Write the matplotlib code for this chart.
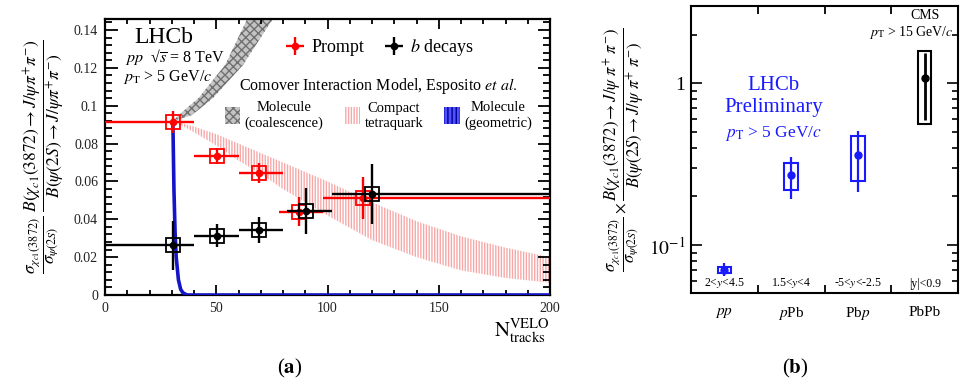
import matplotlib
matplotlib.use('Agg')
import matplotlib.pyplot as plt
import numpy as np
from matplotlib.patches import Rectangle, Patch
from matplotlib.ticker import FuncFormatter, MultipleLocator, FixedLocator, NullFormatter, LogLocator
import matplotlib.transforms as mtransforms

plt.rcParams['font.family'] = ['Liberation Serif', 'DejaVu Serif']
plt.rcParams['mathtext.fontset'] = 'stix'
plt.rcParams['hatch.linewidth'] = 1.0

# ---------------- data: panel (a) ----------------
prompt_x = [30.6, 50.5, 69.4, 87.4, 116.0]
prompt_xlo = [0, 40, 60, 78, 98]
prompt_xhi = [40, 60, 80, 98, 200]
prompt_y = [0.0914, 0.0734, 0.0644, 0.0440, 0.0512]
prompt_yerr = [0.0060, 0.0043, 0.0053, 0.0078, 0.0110]

bdec_x = [30.6, 50.3, 69.4, 90.5, 120.0]
bdec_xlo = [0, 40, 60, 82, 102]
bdec_xhi = [40, 60, 80, 102, 200]
bdec_y = [0.0262, 0.0313, 0.0343, 0.0444, 0.0533]
bdec_yerr = [0.0130, 0.0060, 0.0070, 0.0120, 0.0160]

# compact tetraquark band
tetra_x = [30.5, 40, 50, 60, 70, 80, 90, 100, 120, 140, 160, 180, 200]
tetra_lo = [0.092, 0.086, 0.079, 0.071, 0.064, 0.056, 0.049, 0.042, 0.029, 0.020, 0.013, 0.009, 0.0065]
tetra_hi = [0.092, 0.089, 0.085, 0.080, 0.075, 0.070, 0.065, 0.060, 0.049, 0.039, 0.031, 0.025, 0.020]

# molecule (coalescence) band edges
coal_left_x = [30.5, 35, 42, 54, 64, 70]
coal_left_y = [0.092, 0.097, 0.104, 0.1215, 0.146, 0.160]
coal_right_x = [30.5, 39, 48.5, 62, 75.5, 83]
coal_right_y = [0.092, 0.095, 0.104, 0.1215, 0.146, 0.160]

# molecule (geometric) curve
geo_x = [30.5, 31, 31.5, 32, 33, 34, 35, 36, 37, 40, 200]
geo_y = [0.092, 0.055, 0.033, 0.020, 0.008, 0.003, 0.0012, 0.0005, 0.0, 0.0, 0.0]

# ---------------- data: panel (b) ----------------
sys_names = [r'$pp$', r'$p$Pb', r'Pb$p$', 'PbPb']
rap_labels = [r'2<$y$<4.5', r'1.5<$y$<4', r'-5<$y$<-2.5', r'|y|<0.9']
ratio = [0.070, 0.27, 0.36, 1.07]
stat_lo = [0.064, 0.192, 0.212, 0.59]
stat_hi = [0.077, 0.349, 0.506, 1.53]
syst_lo = [0.067, 0.219, 0.248, 0.558]
syst_hi = [0.073, 0.320, 0.471, 1.58]
pt_colors = ['#1a1aff', '#1a1aff', '#1a1aff', 'black']

RED = '#ff0000'
BLUE = '#1414c8'

fig = plt.figure(figsize=(9.63, 3.85), dpi=100)

# ================= panel (a) =================
ax = fig.add_axes([105/963, 1-295/385, 445/963, 276/385])
ax.set_xlim(0, 200)
ax.set_ylim(0, 0.1458)

# bands
ax.fill_between(tetra_x, tetra_lo, tetra_hi, facecolor='white', edgecolor='#f6a8a8',
                hatch='||||||', linewidth=0, zorder=1)
cx = np.concatenate([coal_left_x, coal_right_x[::-1]])
cy = np.concatenate([coal_left_y, coal_right_y[::-1]])
ax.fill(cx, cy, facecolor='#c4c4c4', edgecolor='#707070', hatch='xxxx', linewidth=0, zorder=1)
ax.plot(geo_x, geo_y, color=BLUE, lw=2.6, zorder=3, solid_capstyle='butt')

def draw_series(xs, xlo, xhi, ys, yerr, color, zo):
    xs = np.array(xs); xe = [xs - np.array(xlo), np.array(xhi) - xs]
    eb = ax.errorbar(xs, ys, xerr=xe, yerr=yerr, fmt='o', color=color, ms=4.5,
                     elinewidth=1.7, capsize=0, zorder=zo)
    ax.plot(xs, ys, 's', mfc='none', mec=color, ms=9.5, mew=1.3, zorder=zo)
    return eb

eb_p = draw_series(prompt_x, prompt_xlo, prompt_xhi, prompt_y, prompt_yerr, RED, 4)
eb_b = draw_series(bdec_x, bdec_xlo, bdec_xhi, bdec_y, bdec_yerr, 'black', 5)

# axes style
for s in ax.spines.values():
    s.set_linewidth(1.6)
ax.xaxis.set_major_locator(MultipleLocator(50))
ax.xaxis.set_minor_locator(MultipleLocator(10))
ax.yaxis.set_major_locator(MultipleLocator(0.02))
ax.yaxis.set_minor_locator(MultipleLocator(0.004))
ax.yaxis.set_major_formatter(FuncFormatter(lambda v, p: f'{v:g}'))
ax.tick_params(axis='both', which='both', direction='in', top=True, right=True,
               labelsize=10, labelcolor='#222222', width=1.3)
ax.tick_params(axis='y', which='major', length=9, pad=5)
ax.tick_params(axis='y', which='minor', length=5)
ax.tick_params(axis='x', which='major', length=7, pad=5)
ax.tick_params(axis='x', which='minor', length=3.5)

ax.set_xlabel(r'$\mathrm{N}_{\mathrm{tracks}}^{\mathrm{VELO}}$', fontsize=15, loc='right', labelpad=2)
ax.set_ylabel(r'$\dfrac{\sigma_{\chi_{c1}(3872)}}{\sigma_{\psi(2S)}}\ \dfrac{B(\chi_{c1}(3872)\rightarrow J/\psi\pi^{+}\pi^{-})}{B(\psi(2S)\rightarrow J/\psi\pi^{+}\pi^{-})}$',
              fontsize=12.5, labelpad=5)

ax.text(0.067, 0.913, 'LHCb', transform=ax.transAxes, fontsize=17, ha='left', va='baseline')
ax.text(0.045, 0.845, r'$pp$  √$\overline{s}$ = 8 TeV', transform=ax.transAxes, fontsize=11.5, ha='left', va='baseline')
ax.text(0.040, 0.775, r'$p_{\mathrm{T}}$ > 5 GeV/$c$', transform=ax.transAxes, fontsize=11.5, ha='left', va='baseline')

leg1 = ax.legend([eb_p, eb_b], ['Prompt', r'$b$ decays'], loc='upper left',
                 bbox_to_anchor=(0.405, 0.935), ncol=2, frameon=False, fontsize=13,
                 borderpad=0, borderaxespad=0, handlelength=1.1, handletextpad=0.35,
                 columnspacing=1.1)
ax.add_artist(leg1)

h_coal = Patch(facecolor='#c4c4c4', edgecolor='#707070', hatch='xxxx', lw=0)
h_tetra = Patch(facecolor='white', edgecolor='#f6a8a8', hatch='||||||', lw=0)
h_geo = Patch(facecolor='#5050ff', edgecolor='#000090', hatch='||||', lw=0)
leg2 = ax.legend([h_coal, h_tetra, h_geo],
                 ['Molecule\n(coalescence)', 'Compact\ntetraquark', 'Molecule\n(geometric)'],
                 title=r'Comover Interaction Model, Esposito $et\ al.$', title_fontsize=11.5,
                 loc='upper left', bbox_to_anchor=(0.27, 0.795), ncol=3, frameon=False,
                 fontsize=10.5, borderpad=0, borderaxespad=0, handlelength=1.05,
                 handleheight=1.4, handletextpad=0.3, columnspacing=1.45, labelspacing=0.4)
for t in leg2.get_texts():
    t.set_multialignment('center')

# ================= panel (b) =================
bx = fig.add_axes([691/963, 1-293/385, 267/963, 287/385])
bx.set_yscale('log')
bx.set_xlim(0, 4)
bx.set_ylim(0.0506, 3.0)
xpos = np.arange(len(ratio)) + 0.5
for i in range(len(ratio)):
    c = pt_colors[i]
    bx.add_patch(Rectangle((xpos[i] - 0.1, syst_lo[i]), 0.2, syst_hi[i] - syst_lo[i],
                           facecolor='none', edgecolor=c, lw=1.5, zorder=3))
    bx.errorbar([xpos[i]], [ratio[i]],
                yerr=[[ratio[i] - stat_lo[i]], [stat_hi[i] - ratio[i]]],
                fmt='o', color=c, ms=5, elinewidth=2.0 if c == 'black' else 1.6,
                capsize=0, zorder=4)

for s in bx.spines.values():
    s.set_linewidth(1.5)
bx.xaxis.set_major_locator(FixedLocator([1, 2, 3]))
bx.xaxis.set_major_formatter(NullFormatter())
bx.xaxis.set_minor_locator(FixedLocator(list(xpos)))
bx.set_xticklabels(sys_names, minor=True)
bx.tick_params(axis='x', which='minor', length=0, pad=9, labelsize=11)
bx.tick_params(axis='x', which='major', direction='in', top=True, length=6, width=1.3)
bx.set_yticks([0.1, 1])
bx.set_yticklabels([r'$10^{-1}$', '1'])
bx.yaxis.set_minor_locator(LogLocator(base=10, subs=np.arange(2, 10)))
bx.yaxis.set_minor_formatter(NullFormatter())
bx.tick_params(axis='y', which='both', direction='in', right=True, width=1.2)
bx.tick_params(axis='y', which='major', length=8, labelsize=14, pad=4)
bx.tick_params(axis='y', which='minor', length=4.5)

trans = mtransforms.blended_transform_factory(bx.transData, bx.transAxes)
for i in range(len(ratio)):
    bx.text(xpos[i], 0.012, rap_labels[i], transform=trans, ha='center', va='bottom', fontsize=8.5)

bx.text(0.875, 0.955, 'CMS', transform=bx.transAxes, ha='center', va='baseline', fontsize=10)
bx.text(0.985, 0.895, r'$p_{\mathrm{T}}$ > 15 GeV/$c$', transform=bx.transAxes, ha='right', va='baseline', fontsize=10)
bx.text(0.31, 0.708, 'LHCb', transform=bx.transAxes, ha='center', va='baseline', fontsize=15, color='#1a1aff')
bx.text(0.31, 0.63, 'Preliminary', transform=bx.transAxes, ha='center', va='baseline', fontsize=15, color='#1a1aff')
bx.text(0.31, 0.545, r'$p_{\mathrm{T}}$ > 5 GeV/$c$', transform=bx.transAxes, ha='center', va='baseline', fontsize=12.5, color='#1a1aff')

bx.set_ylabel(r'$\dfrac{\sigma_{\chi_{c1}(3872)}}{\sigma_{\psi(2S)}}\times\dfrac{B(\chi_{c1}(3872)\rightarrow J/\psi\ \pi^{+}\ \pi^{-})}{B(\psi(2S)\rightarrow J/\psi\ \pi^{+}\ \pi^{-})}$',
              fontsize=12, labelpad=1)

fig.text(290/963, 1-368/385, r'($\mathbf{a}$)', ha='center', va='center', fontsize=15)
fig.text(795/963, 1-368/385, r'($\mathbf{b}$)', ha='center', va='center', fontsize=15)

fig.savefig('out.png', dpi=100)
